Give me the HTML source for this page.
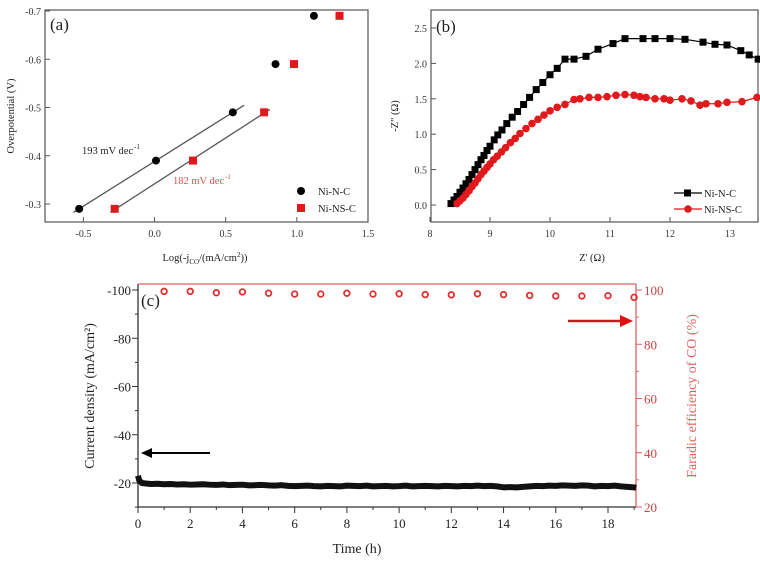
<!DOCTYPE html>
<html><head><meta charset="utf-8"><style>
html,body{margin:0;padding:0;background:#fff;width:760px;height:562px;overflow:hidden}
svg{display:block;font-family:"Liberation Serif",serif}
</style></head><body>
<svg id="fig" width="760" height="562" viewBox="0 0 760 562" xmlns="http://www.w3.org/2000/svg"></svg>
<script>
// ---- Panel (a) data ----
const aNiNC_x=[-0.53,0.01,0.55,0.85,1.12];
const aNiNC_y=[-0.29,-0.39,-0.49,-0.59,-0.69];
const aNiNSC_x=[-0.28,0.27,0.77,0.98,1.30];
const aNiNSC_y=[-0.29,-0.39,-0.49,-0.59,-0.69];
const aXTicks=[-0.5,0.0,0.5,1.0,1.5];
const aYTicks=[-0.3,-0.4,-0.5,-0.6,-0.7];
// ---- Panel (b) data ----
const bNiNC_x=[8.35,8.4,8.45,8.5,8.55,8.6,8.65,8.7,8.75,8.8,8.85,8.9,8.95,9.0,9.07,9.13,9.2,9.28,9.37,9.46,9.56,9.66,9.77,9.88,10.0,10.12,10.25,10.4,10.6,10.8,11.05,11.25,11.55,11.75,12.0,12.25,12.55,12.75,12.95,13.18,13.32,13.47];
const bNiNC_y=[0.02,0.07,0.12,0.18,0.24,0.3,0.36,0.43,0.5,0.57,0.64,0.7,0.77,0.83,0.92,0.99,1.06,1.15,1.24,1.32,1.42,1.52,1.63,1.73,1.84,1.93,2.06,2.06,2.1,2.2,2.28,2.35,2.35,2.35,2.35,2.34,2.3,2.27,2.26,2.18,2.12,2.06];
const bNiNSC_x=[8.45,8.5,8.55,8.6,8.65,8.7,8.75,8.8,8.85,8.9,8.95,9.0,9.06,9.12,9.19,9.26,9.34,9.42,9.5,9.6,9.7,9.8,9.9,10.0,10.12,10.25,10.4,10.5,10.65,10.8,10.95,11.1,11.25,11.4,11.5,11.6,11.75,11.9,12.0,12.2,12.35,12.5,12.6,12.8,12.95,13.2,13.45];
const bNiNSC_y=[0.02,0.06,0.1,0.15,0.2,0.26,0.31,0.37,0.43,0.48,0.53,0.58,0.64,0.69,0.75,0.81,0.88,0.94,1.01,1.08,1.15,1.21,1.27,1.33,1.38,1.42,1.49,1.5,1.52,1.52,1.53,1.55,1.56,1.55,1.53,1.52,1.5,1.5,1.48,1.5,1.47,1.41,1.43,1.43,1.45,1.46,1.52];
const bXTicks=[8,9,10,11,12,13];
const bYTicks=[0.0,0.5,1.0,1.5,2.0,2.5];
// ---- Panel (c) data ----
const cFE_t=[1,2,3,4,5,6,7,8,9,10,11,12,13,14,15,16,17,18,19];
const cFE_v=[99.5,99.5,99.0,99.3,98.8,98.5,98.5,98.8,98.5,98.6,98.3,98.2,98.6,98.3,98.0,97.8,97.8,97.9,97.3];
const cJ_t=[0,0.05,0.15,0.3,0.5,0.75,1,1.25,1.5,1.75,2,2.25,2.5,2.75,3,3.25,3.5,3.75,4,4.25,4.5,4.75,5,5.25,5.5,5.75,6,6.25,6.5,6.75,7,7.25,7.5,7.75,8,8.25,8.5,8.75,9,9.25,9.5,9.75,10,10.25,10.5,10.75,11,11.25,11.5,11.75,12,12.25,12.5,12.75,13,13.25,13.5,13.75,14,14.25,14.5,14.75,15,15.25,15.5,15.75,16,16.25,16.5,16.75,17,17.25,17.5,17.75,18,18.25,18.5,18.75,19,19.08];
const cJ_v=[-23,-21,-20,-19.8,-19.6,-19.7,-19.5,-19.6,-19.4,-19.5,-19.3,-19.4,-19.5,-19.3,-19.2,-19.4,-19.1,-19.2,-19.3,-19.0,-19.1,-19.2,-19.0,-18.9,-19.1,-18.8,-18.7,-18.8,-18.9,-18.7,-18.6,-18.8,-18.7,-18.6,-18.9,-18.8,-18.7,-18.9,-18.6,-18.7,-18.8,-18.6,-18.7,-18.9,-18.6,-18.7,-18.8,-18.7,-18.6,-18.8,-18.7,-18.6,-18.8,-18.7,-18.9,-18.7,-18.8,-18.6,-18.2,-18.3,-18.2,-18.4,-18.6,-18.8,-18.7,-18.9,-18.8,-19.0,-18.9,-18.8,-19.0,-18.9,-18.6,-18.8,-18.7,-18.9,-18.6,-18.4,-18.2,-18.0];
const cXTicks=[0,2,4,6,8,10,12,14,16,18];
const cYLTicks=[-20,-40,-60,-80,-100];
const cYRTicks=[20,40,60,80,100];

const svg=document.getElementById('fig');
const NS='http://www.w3.org/2000/svg';
function mk(tag,attrs,parent){const e=document.createElementNS(NS,tag);for(const k in attrs)e.setAttribute(k,attrs[k]);(parent||svg).appendChild(e);return e;}
function txt(s,attrs,parent){const e=mk('text',attrs,parent);e.textContent=s;return e;}
function lin(d0,d1,r0,r1){return v=>r0+(v-d0)*(r1-r0)/(d1-d0);}

// ===== Panel (a) =====
const ga=mk('g',{});


const ax=lin(-0.77,1.5,45,368), ay=lin(-0.3,-0.7,204,11);
mk('rect',{x:45,y:10,width:323,height:212,fill:'none',stroke:'#555','stroke-width':1.2},ga);
aXTicks.forEach(t=>{const X=ax(t);mk('line',{x1:X,y1:222,x2:X,y2:217,stroke:'#555'},ga);
 const l=txt(t.toFixed(1),{x:X,y:237,'font-size':10,'text-anchor':'middle',fill:'#333'},ga);
 });
aYTicks.forEach(t=>{const Y=ay(t);mk('line',{x1:45,y1:Y,x2:50,y2:Y,stroke:'#555'},ga);
 const l=txt(t.toFixed(1),{x:41,y:Y+4,'font-size':10,'text-anchor':'end',fill:'#333'},ga);
 });
function fitLine(xs,ys,n,x0,x1){const X=xs.slice(0,n),Y=ys.slice(0,n);const mx=X.reduce((a,b)=>a+b)/n,my=Y.reduce((a,b)=>a+b)/n;let sxy=0,sxx=0;for(let i=0;i<n;i++){sxy+=(X[i]-mx)*(Y[i]-my);sxx+=(X[i]-mx)**2;}const m=sxy/sxx;return [x0,my+m*(x0-mx),x1,my+m*(x1-mx)];}
let f=fitLine(aNiNC_x,aNiNC_y,3,-0.57,0.63);
let fl=mk('line',{x1:ax(f[0]),y1:ay(f[1]),x2:ax(f[2]),y2:ay(f[3]),stroke:'#555','stroke-width':1.3},ga);

f=fitLine(aNiNSC_x,aNiNSC_y,3,-0.31,0.81);
fl=mk('line',{x1:ax(f[0]),y1:ay(f[1]),x2:ax(f[2]),y2:ay(f[3]),stroke:'#555','stroke-width':1.3},ga);

aNiNC_x.forEach((x,i)=>{const c=mk('circle',{cx:ax(x),cy:ay(aNiNC_y[i]),r:4,fill:'#000'},ga);
 });
aNiNSC_x.forEach((x,i)=>{const c=mk('rect',{x:ax(x)-4,y:ay(aNiNSC_y[i])-4,width:8,height:8,fill:'#e0191c'},ga);
 });
let t;
t=txt('(a)',{x:50,y:30,'font-size':17,fill:'#222'},ga);
t=txt('193 mV dec',{x:82,y:154,'font-size':10.5,fill:'#222'},ga);
txt('-1',{x:134,y:149,'font-size':7,fill:'#222'},ga);
t=txt('182 mV dec',{x:173,y:184,'font-size':10.5,fill:'#e05050'},ga);
txt('-1',{x:225,y:179,'font-size':7,fill:'#e05050'},ga);
mk('circle',{cx:301,cy:191,r:4,fill:'#000'},ga);
t=txt('Ni-N-C',{x:318,y:195,'font-size':10.5,fill:'#222'},ga);
mk('rect',{x:297,y:204,width:8,height:8,fill:'#e0191c'},ga);
t=txt('Ni-NS-C',{x:318,y:212,'font-size':10.5,fill:'#222'},ga);
t=txt('Overpotential (V)',{x:0,y:0,'font-size':10.5,'text-anchor':'middle',fill:'#222',transform:'translate(14,116) rotate(-90)'},ga);
t=mk('text',{x:205,y:261,'font-size':10.5,'text-anchor':'middle',fill:'#222'},ga);

t.innerHTML='Log(-j<tspan font-size="7" dy="3">CO</tspan><tspan dy="-3">/(mA/cm</tspan><tspan font-size="7" dy="-4">2</tspan><tspan dy="4">))</tspan>';

// ===== Panel (b) =====
const gb=mk('g',{});


const bx=lin(8,13,430,730), by=lin(0,2.5,205,28);
mk('rect',{x:431,y:10,width:327,height:212,fill:'none',stroke:'#555','stroke-width':1.2},gb);
bXTicks.forEach(v=>{const X=bx(v);mk('line',{x1:X,y1:222,x2:X,y2:217,stroke:'#555'},gb);
 const l=txt(String(v),{x:X,y:237,'font-size':10,'text-anchor':'middle',fill:'#333'},gb);
 });
bYTicks.forEach(v=>{const Y=by(v);mk('line',{x1:431,y1:Y,x2:436,y2:Y,stroke:'#555'},gb);
 const l=txt(v.toFixed(1),{x:427,y:Y+4,'font-size':10,'text-anchor':'end',fill:'#333'},gb);
 });
let p=mk('polyline',{points:bNiNC_x.map((x,i)=>bx(x)+','+by(bNiNC_y[i])).join(' '),fill:'none',stroke:'#000','stroke-width':1.2},gb);

bNiNC_x.forEach((x,i)=>{const c=mk('rect',{x:bx(x)-3.5,y:by(bNiNC_y[i])-3.5,width:7,height:7,fill:'#000'},gb);
 });
p=mk('polyline',{points:bNiNSC_x.map((x,i)=>bx(x)+','+by(bNiNSC_y[i])).join(' '),fill:'none',stroke:'#e0191c','stroke-width':1.2},gb);

bNiNSC_x.forEach((x,i)=>{const c=mk('circle',{cx:bx(x),cy:by(bNiNSC_y[i]),r:3.8,fill:'#e0191c'},gb);
 });
t=txt('(b)',{x:436,y:32,'font-size':17,fill:'#222'},gb);
mk('line',{x1:674,y1:193,x2:702,y2:193,stroke:'#000','stroke-width':1.2},gb);
mk('rect',{x:684,y:189.5,width:7,height:7,fill:'#000'},gb);
t=txt('Ni-N-C',{x:704,y:197,'font-size':10.5,fill:'#222'},gb);
mk('line',{x1:674,y1:209,x2:702,y2:209,stroke:'#e0191c','stroke-width':1.2},gb);
mk('circle',{cx:688,cy:209,r:3.8,fill:'#e0191c'},gb);
t=txt('Ni-NS-C',{x:704,y:213,'font-size':10.5,fill:'#222'},gb);
t=txt('-Z" (Ω)',{x:0,y:0,'font-size':10.5,'text-anchor':'middle',fill:'#222',transform:'translate(398,116) rotate(-90)'},gb);
t=txt("Z' (Ω)",{x:592,y:261,'font-size':10.5,'text-anchor':'middle',fill:'#222'},gb);

// ===== Panel (c) =====
const gc=mk('g',{});


const cx=lin(0,18,138,608), cyL=lin(-20,-100,483,290), cyR=lin(20,100,507,290);
mk('line',{x1:138,y1:284,x2:138,y2:507,stroke:'#333','stroke-width':1.3},gc);
mk('line',{x1:138,y1:507,x2:636,y2:507,stroke:'#333','stroke-width':1.3},gc);
mk('line',{x1:138,y1:284,x2:636,y2:284,stroke:'#e06060','stroke-width':1.3},gc);
mk('line',{x1:636,y1:284,x2:636,y2:507,stroke:'#e06060','stroke-width':1.3},gc);
cXTicks.forEach(v=>{const X=cx(v);mk('line',{x1:X,y1:507,x2:X,y2:513,stroke:'#333'},gc);
 mk('line',{x1:cx(v+1),y1:507,x2:cx(v+1),y2:510,stroke:'#333'},gc);
 const l=txt(String(v),{x:X,y:528,'font-size':13,'text-anchor':'middle',fill:'#222'},gc);
 });
cYLTicks.forEach(v=>{const Y=cyL(v);mk('line',{x1:132,y1:Y,x2:138,y2:Y,stroke:'#333'},gc);
 if(v<-20)mk('line',{x1:135,y1:cyL(v+10),x2:138,y2:cyL(v+10),stroke:'#333'},gc);
 const l=txt(String(v),{x:131,y:Y+5,'font-size':13,'text-anchor':'end',fill:'#222'},gc);
 });
mk('line',{x1:135,y1:cyL(-10),x2:138,y2:cyL(-10),stroke:'#333'},gc);
cYRTicks.forEach(v=>{const Y=cyR(v);mk('line',{x1:636,y1:Y,x2:642,y2:Y,stroke:'#e06060'},gc);
 if(v<100)mk('line',{x1:636,y1:cyR(v+10),x2:639,y2:cyR(v+10),stroke:'#e06060'},gc);
 const l=txt(String(v),{x:644,y:Y+5,'font-size':13,fill:'#d04040'},gc);
 });
p=mk('polyline',{points:cJ_t.map((x,i)=>cx(x)+','+cyL(cJ_v[i])).join(' '),fill:'none',stroke:'#111','stroke-width':6,'stroke-linejoin':'round'},gc);

cFE_t.forEach((x,i)=>{const c=mk('circle',{cx:cx(x),cy:cyR(cFE_v[i]),r:2.8,fill:'none',stroke:'#e03030','stroke-width':1.8},gc);
 });
t=txt('(c)',{x:141,y:306,'font-size':17,fill:'#222'},gc);
const a1=mk('g',{},gc);
mk('line',{x1:210,y1:453,x2:150,y2:453,stroke:'#000','stroke-width':2},a1);
mk('polygon',{points:'141,453 152,448 152,458',fill:'#000'},a1);
const a2=mk('g',{},gc);
mk('line',{x1:568,y1:321,x2:622,y2:321,stroke:'#c02020','stroke-width':2.5},a2);
mk('polygon',{points:'633,321 620,315 620,327',fill:'#e01010'},a2);
t=txt('Current density (mA/cm²)',{x:0,y:0,'font-size':14,'text-anchor':'middle',fill:'#222',transform:'translate(94,396) rotate(-90)'},gc);
t=txt('Faradic efficiency of CO (%)',{x:0,y:0,'font-size':14,'text-anchor':'middle',fill:'#e06060',transform:'translate(696,396) rotate(-90)'},gc);
t=txt('Time (h)',{x:357,y:553,'font-size':14,'text-anchor':'middle',fill:'#222'},gc);
</script>
</body></html>
